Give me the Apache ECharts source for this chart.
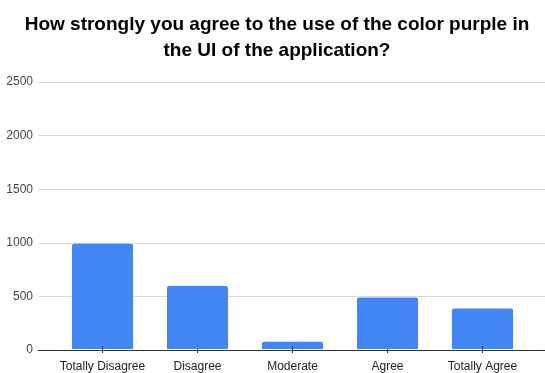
<!DOCTYPE html>
<html>
<head>
<meta charset="utf-8">
<script src="https://cdn.jsdelivr.net/npm/echarts@6/dist/echarts.min.js"></script>
<style>
  html, body { margin: 0; padding: 0; background: #ffffff; }
  #chart { width: 545px; height: 373px; }
</style>
</head>
<body>
<div id="chart"></div>
<script>
// Survey answers: agreement with the colour purple in the app UI
const categories = ['Totally Disagree', 'Disagree', 'Moderate', 'Agree', 'Totally Agree'];
const responses = [985, 590, 68, 482, 380];
const yTicks = [0, 500, 1000, 1500, 2000, 2500];

const chart = echarts.init(document.getElementById('chart'));
const font = 'Liberation Sans, Arial, sans-serif';
const tickStyle = { color: '#333333', width: 1 };

chart.setOption({
  animation: false,
  backgroundColor: '#ffffff',
  title: {
    text: 'How strongly you agree to the use of the color purple in\nthe UI of the application?',
    left: 272,
    textAlign: 'center',
    top: 7,
    textStyle: {
      fontFamily: font,
      fontSize: 19,
      fontWeight: 'bold',
      color: '#000000',
      lineHeight: 26,
      align: 'center'
    }
  },
  grid: [
    // full-width frame carrying the value scale, gridlines and baseline
    { left: 38, right: 0, top: 82, bottom: 23 },
    // inner band where the category bars sit
    { left: 55, right: 15, top: 82, bottom: 23 }
  ],
  xAxis: [
    {
      gridIndex: 0,
      type: 'value',
      min: 0,
      max: 1,
      z: 6,
      axisLine: { show: true, onZero: false, lineStyle: { color: '#333333', width: 1 } },
      axisTick: { show: false },
      axisLabel: { show: false },
      splitLine: { show: false }
    },
    {
      gridIndex: 1,
      type: 'category',
      data: categories,
      z: 5,
      axisLine: { show: true, onZero: false, lineStyle: { color: 'rgba(0,0,0,0)', width: 1 } },
      axisTick: { show: true, alignWithLabel: true, length: 4, lineStyle: tickStyle },
      axisLabel: { interval: 0, fontFamily: font, fontSize: 12, color: '#222222', margin: 12 }
    },
    {
      // short upward stubs so each tick crosses the baseline
      gridIndex: 1,
      type: 'category',
      data: categories,
      position: 'bottom',
      z: 5,
      axisLine: { show: true, onZero: false, lineStyle: { color: 'rgba(0,0,0,0)' } },
      axisTick: { show: true, inside: true, alignWithLabel: true, length: 3, lineStyle: tickStyle },
      axisLabel: { show: false }
    }
  ],
  yAxis: [
    {
      gridIndex: 0,
      type: 'value',
      min: yTicks[0],
      max: yTicks[yTicks.length - 1],
      interval: yTicks[1] - yTicks[0],
      axisLine: { show: false },
      axisTick: { show: false },
      axisLabel: { fontFamily: font, fontSize: 12, color: '#444444', margin: 5, formatter: v => String(v) },
      splitLine: { lineStyle: { color: '#d9d9d9', width: 1 } }
    },
    {
      gridIndex: 1,
      type: 'value',
      min: yTicks[0],
      max: yTicks[yTicks.length - 1],
      show: false
    }
  ],
  series: [
    {
      type: 'bar',
      xAxisIndex: 1,
      yAxisIndex: 1,
      data: responses,
      barWidth: 61,
      itemStyle: { color: '#4285F4', borderRadius: [2, 2, 0, 0] }
    }
  ]
});
</script>
</body>
</html>
